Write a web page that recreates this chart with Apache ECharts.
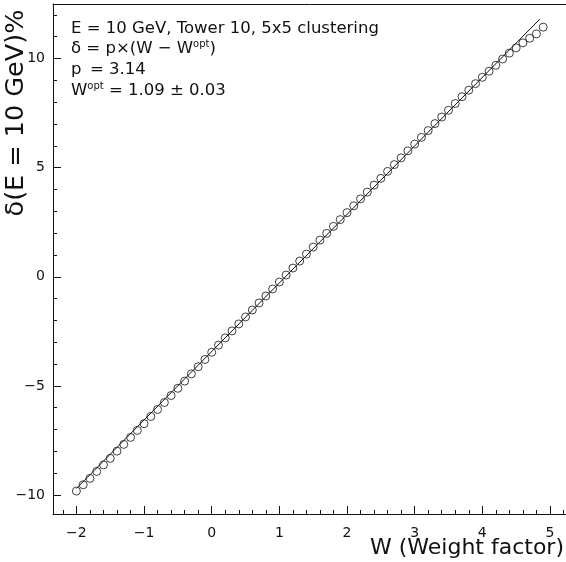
<!DOCTYPE html>
<html>
<head>
<meta charset="utf-8">
<script src="https://cdn.jsdelivr.net/npm/echarts@6/dist/echarts.min.js"></script>
<style>
  html, body { margin: 0; padding: 0; background: #fff; }
  #chart { width: 566px; height: 562px; }
</style>
</head>
<body>
<div id="chart"></div>
<script>
// Weight factor scan: energy deviation at E = 10 GeV (Tower 10, 5x5 clustering)
const weightFactor = [
  -2.0, -1.9, -1.8, -1.7, -1.6, -1.5, -1.4, -1.3, -1.2, -1.1,
  -1.0, -0.9, -0.8, -0.7, -0.6, -0.5, -0.4, -0.3, -0.2, -0.1,
   0.0,  0.1,  0.2,  0.3,  0.4,  0.5,  0.6,  0.7,  0.8,  0.9,
   1.0,  1.1,  1.2,  1.3,  1.4,  1.5,  1.6,  1.7,  1.8,  1.9,
   2.0,  2.1,  2.2,  2.3,  2.4,  2.5,  2.6,  2.7,  2.8,  2.9,
   3.0,  3.1,  3.2,  3.3,  3.4,  3.5,  3.6,  3.7,  3.8,  3.9,
   4.0,  4.1,  4.2,  4.3,  4.4,  4.5,  4.6,  4.7,  4.8,  4.9
];
const deltaPct = [
  -9.82, -9.53, -9.24, -8.92, -8.62, -8.32, -7.99, -7.68, -7.36, -7.04,
  -6.73, -6.40, -6.08, -5.76, -5.44, -5.11, -4.78, -4.45, -4.12, -3.79,
  -3.46, -3.13, -2.80, -2.48, -2.16, -1.84, -1.52, -1.20, -0.88, -0.56,
  -0.24,  0.08,  0.40,  0.72,  1.04,  1.36,  1.68,  1.99,  2.31,  2.62,
   2.94,  3.25,  3.57,  3.88,  4.20,  4.51,  4.83,  5.14,  5.45,  5.77,
   6.08,  6.39,  6.70,  7.02,  7.32,  7.63,  7.94,  8.25,  8.55,  8.85,
   9.14,  9.42,  9.69,  9.98, 10.25, 10.49, 10.72, 10.93, 11.13, 11.44
];

// Linear fit: delta = p * (W - Wopt)
const fitSlope = 3.14;
const fitWopt = 1.09;
const fitWoptErr = 0.03;
const fitRange = [-2.0, 4.85];

// Axis ranges and tick spacing
const xRange = [-2.346, 5.237];
const yRange = [-10.87, 12.5];
const xMajor = 1;
const yMajor = 5;

const FONT = '"DejaVu Sans", "Liberation Sans", sans-serif';
const INK = '#111';

const points = weightFactor.map((w, i) => [w, deltaPct[i]]);
const fitLine = fitRange.map(w => [w, +(fitSlope * (w - fitWopt)).toFixed(4)]);

const minus = v => String(v).replace('-', '\u2212');
const font = size => size + 'px ' + FONT;

const chart = echarts.init(document.getElementById('chart'), null, { renderer: 'canvas' });

const richLine = {
  n: { fontFamily: FONT, fontSize: 16.5, fill: INK, lineHeight: 22 },
  s: { fontFamily: FONT, fontSize: 10, fill: INK, lineHeight: 22, padding: [0, 0, 9, 0] }
};

chart.setOption({
  backgroundColor: '#fff',
  animation: false,
  grid: { left: 53, right: 0, top: 4, bottom: 48, containLabel: false, outerBoundsMode: 'none' },
  xAxis: [
    {
      type: 'value', position: 'bottom',
      min: xRange[0], max: xRange[1],
      minInterval: xMajor, maxInterval: xMajor,
      axisLine: { show: true, onZero: false, lineStyle: { color: INK, width: 1 } },
      axisTick: { show: true, inside: true, length: 8, lineStyle: { color: INK } },
      minorTick: { show: true, splitNumber: 5, length: 4, lineStyle: { color: INK } },
      axisLabel: {
        show: true, margin: 12, color: INK, fontFamily: FONT, fontSize: 14,
        showMinLabel: false, showMaxLabel: false, formatter: minus
      },
      splitLine: { show: false }
    },
    {
      type: 'value', position: 'top',
      min: xRange[0], max: xRange[1],
      axisLine: { show: true, onZero: false, lineStyle: { color: INK, width: 1 } },
      axisTick: { show: false }, axisLabel: { show: false }, splitLine: { show: false }
    }
  ],
  yAxis: [
    {
      type: 'value', position: 'left',
      min: yRange[0], max: yRange[1],
      minInterval: yMajor, maxInterval: yMajor,
      axisLine: { show: true, onZero: false, lineStyle: { color: INK, width: 1 } },
      axisTick: { show: true, inside: true, length: 8, lineStyle: { color: INK } },
      minorTick: { show: true, splitNumber: 5, length: 4, lineStyle: { color: INK } },
      axisLabel: {
        show: true, margin: 8, color: INK, fontFamily: FONT, fontSize: 14,
        showMinLabel: false, showMaxLabel: false, formatter: minus
      },
      splitLine: { show: false }
    }
  ],
  series: [
    {
      type: 'line', name: 'fit', xAxisIndex: 0, yAxisIndex: 0,
      data: fitLine, showSymbol: false, symbol: 'none',
      lineStyle: { color: INK, width: 1 }, silent: true, z: 2
    },
    {
      type: 'scatter', name: 'scan', xAxisIndex: 0, yAxisIndex: 0,
      data: points, symbol: 'circle', symbolSize: 8,
      itemStyle: { color: 'rgba(0,0,0,0)', borderColor: INK, borderWidth: 1 },
      silent: true, z: 3
    }
  ],
  graphic: [
    {
      type: 'text', left: 71, top: 20,
      style: { text: 'E = 10 GeV, Tower 10, 5x5 clustering', fill: INK, font: font(16.5) }
    },
    {
      type: 'text', left: 71, top: 39,
      style: { text: '{n|\u03b4 = p\u00d7(W \u2212 W}{s|opt}{n|)}', rich: richLine }
    },
    {
      type: 'text', left: 71, top: 61,
      style: { text: 'p', fill: INK, font: font(16.5) }
    },
    {
      type: 'text', left: 90, top: 61,
      style: { text: '= ' + fitSlope.toFixed(2), fill: INK, font: font(16.5) }
    },
    {
      type: 'text', left: 71, top: 81,
      style: {
        text: '{n|W}{s|opt}{n| = ' + fitWopt.toFixed(2) + ' \u00b1 ' + fitWoptErr.toFixed(2) + '}',
        rich: richLine
      }
    },
    {
      type: 'text', x: 16, y: 113, rotation: Math.PI / 2,
      style: {
        text: '\u03b4(E = 10 GeV)%', fill: INK, font: font(25.5),
        align: 'center', verticalAlign: 'middle'
      }
    },
    {
      type: 'text', x: 564, y: 548,
      style: {
        text: 'W (Weight factor)', fill: INK, font: font(22),
        align: 'right', verticalAlign: 'middle'
      }
    }
  ]
});
</script>
</body>
</html>
